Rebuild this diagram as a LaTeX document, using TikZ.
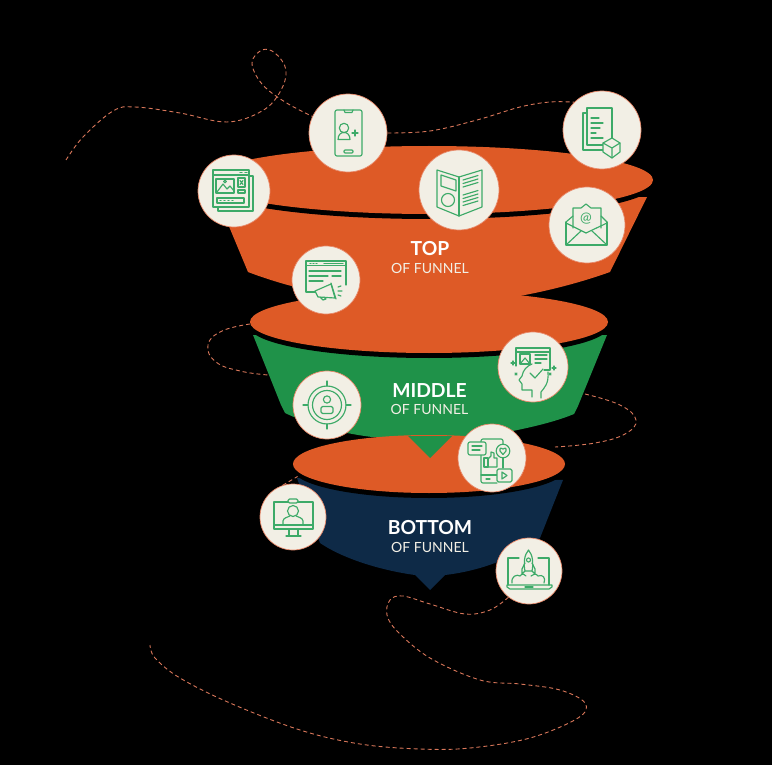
\documentclass[tikz,border=0pt]{standalone}
\usepackage{fontspec}
\setmainfont{Lato}
\definecolor{funOrange}{HTML}{DE5A26}
\definecolor{funGreen}{HTML}{1F9249}
\definecolor{funNavy}{HTML}{0E2A47}
\definecolor{ringFill}{HTML}{F2EFE5}
\definecolor{ringEdge}{HTML}{E8896A}
\definecolor{iconGreen}{HTML}{3DAA68}
\definecolor{dashCol}{HTML}{D9775A}
\pgfdeclarelayer{under}
\pgfsetlayers{under,main}
\tikzset{
 ring/.style={circle,fill=ringFill,draw=ringEdge,line width=.7pt,inner sep=0pt,minimum size=#1},
 dashline/.style={draw=dashCol,line width=.9pt,dash pattern=on 4pt off 3pt},
 ico/.style={draw=iconGreen,line width=1.15pt,line join=round,line cap=round},
 headtxt/.style={text=white,font=\fontsize{19.3}{20}\selectfont\bfseries},
 subtxt/.style={text=ringFill,font=\fontsize{14}{15}\selectfont},
 atsign/.style={text=iconGreen,inner sep=0pt,font=\fontsize{14}{15}\selectfont},
}
\begin{document}
\begin{tikzpicture}[x=1pt,y=-1pt]
\begin{pgfonlayer}{under}
\path[fill=black,use as bounding box] (0,0) rectangle (772,765);
\end{pgfonlayer}
% top of funnel
\fill[funOrange] (218,200) -- (248,272) .. controls (300,292) and (370,305) .. (429,305) .. controls (490,305) and (560,290) .. (610,272) -- (647,197) -- cycle;
\fill[black] (429,185) ellipse [x radius=224,y radius=34];
\fill[funOrange] (429,180) ellipse [x radius=224,y radius=34];
% middle of funnel
\fill[funGreen] (253,335) -- (281,405) -- (285,413) .. controls (310,425) and (340,433) .. (372,437) -- (480,437) .. controls (515,431) and (550,424) .. (574,414) -- (578,406) -- (607,335) -- cycle;
\fill[black] (429,327) ellipse [x radius=179,y radius=31];
\fill[funOrange] (429,322) ellipse [x radius=179,y radius=31];
% bottom of funnel
\fill[funNavy] (297,478) -- (320,543) .. controls (345,560) and (385,571) .. (415,575) -- (430,590) -- (445,575) .. controls (480,571) and (515,558) .. (540,538) -- (563,480) -- cycle;
\fill[black] (429,469) ellipse [x radius=136,y radius=29];
\fill[funOrange] (429,464) ellipse [x radius=136,y radius=29];
\fill[funGreen] (408,436) -- (430,458) -- (452,436) -- cycle;
% labels
\node[headtxt] (topA) at (430,249) {TOP};
\node[subtxt] (topB) at (430,268) {OF FUNNEL};
\node[headtxt] (midA) at (429.5,391) {MIDDLE};
\node[subtxt] (midB) at (429.5,409) {OF FUNNEL};
\node[headtxt] (botA) at (430,528) {BOTTOM};
\node[subtxt] (botB) at (430,547) {OF FUNNEL};
% circles
\node[ring=78pt] (phone) at (348,133) {};
\node[ring=78pt] (docs) at (602,130) {};
\node[ring=66pt] (rocket) at (529,571) {};
\node[ring=66pt] (video) at (293,517) {};
\node[ring=72pt] (web) at (234,191) {};
\node[ring=80pt] (mag) at (459,190) {};
\node[ring=76pt] (email) at (587,225) {};
\node[ring=68pt] (ad) at (326,280) {};
\node[ring=70pt] (head) at (533,367) {};
\node[ring=68pt] (target) at (327,405) {};
\node[ring=68pt] (social) at (492,458) {};
% dashed trails run beneath everything else
\coordinate (trailA) at (66,160);
\coordinate (trailB) at (150,645);
\coordinate (midL) at (250,324);
\coordinate (midLb) at (268,375);
\coordinate (midR) at (585,394);
\coordinate (midRb) at (555,447);
\begin{pgfonlayer}{under}
\draw[dashline] plot[smooth,tension=.62] coordinates {(trailA) (83,137) (113,111) (135,107) (180,113) (227,122) (262,111) (280,92) (286,70) (275,53) (262,50) (252,63) (262,84) (285,102) (phone.155)};
\draw[dashline] plot[smooth,tension=.6] coordinates {(phone.0) (430,131) (477,120) (520,107) (550,102) (docs.135)};
\draw[dashline] plot[smooth,tension=.75] coordinates {(midL) (222,331) (208,345) (216,362) (240,371) (midLb)};
\draw[dashline] plot[smooth,tension=.7] coordinates {(midR) (620,405) (636,420) (625,434) (595,443) (midRb)};
\draw[dashline] plot[smooth,tension=.6] coordinates {(rocket.232) (490,610) (465,614) (430,604) (403,596) (390,600) (387,615) (398,632) (430,658) (480,680) (520,684) (560,690) (585,703) (578,718) (530,738) (470,748) (420,749) (360,744) (300,730) (230,703) (180,678) (155,658) (trailB)};
\draw[dashline] (video.108) -- (300,475);
\end{pgfonlayer}
\begin{scope}[ico]
% phone
\draw[rounded corners=2pt] (335,110) rectangle (362,156);
\draw (344,110) -- (345,112.5) -- (352,112.5) -- (353,110);
\draw[rounded corners=1pt] (344,150) rectangle (353,153);
\draw (344,128) circle (4.7);
\draw (338,139.5) .. controls (338,130) and (350,130) .. (350,139.5) -- cycle;
\draw (352,133) -- (358,133) (355,130) -- (355,136);
% web
\draw (213,170) rectangle (249,207);
\draw (213,175) -- (249,175);
\draw (249,176) -- (253,176) -- (253,211) -- (218,211) -- (218,207);
\draw (240,172.5) -- (242,172.5) (245,172.5) -- (247,172.5);
\draw (216,179) rectangle (234,193);
\draw (217,192) -- (223,184) -- (227,189) -- (230,186) -- (234,191);
\draw (225,181.5) circle (1.4);
\draw (238,178) rectangle (245,187);
\draw (240,180.5) -- (243,184.5) (243,180.5) -- (240,184.5);
\draw (238,190) rectangle (245,193);
\draw (217,198) rectangle (244,203);
\draw (220,200.5) -- (221,200.5) (224,200.5) -- (225,200.5) (228,200.5) -- (229,200.5) (232,200.5) -- (233,200.5);
% ad
\draw (346,285) -- (346,261) -- (306,261) -- (306,292) -- (315,292);
\draw (306,265.5) -- (346,265.5);
\draw (310,263.3) -- (311,263.3) (313,263.3) -- (314,263.3) (316,263.3) -- (317,263.3) (324,263.3) -- (343,263.3);
\draw (309,271) -- (341,271) (309,276) -- (328,276) (332,276) -- (341,276) (309,281) -- (323,281);
\draw[fill=ringFill] (315,291) -- (331,284) -- (335,298) -- (318,297) -- cycle;
\draw (320,297) -- (323,300) -- (326,299) -- (324,297);
\draw (331,283) -- (336,299);
\draw (338,287) -- (341,286) (338,291) -- (342,291) (338,295) -- (341,296);
% magazine
\draw (437,170) -- (459,177) -- (482,170) -- (482,207) -- (459,216) -- (437,207) -- cycle;
\draw (459,177) -- (459,216);
\draw (441,175) -- (456,180) -- (456,191) -- (441,186) -- cycle;
\draw (448,200) circle (6.5);
\draw (463,180) -- (478,175.5) (463,183.5) -- (478,179) (463,187) -- (478,182.5);
\draw (463,195) -- (478,190.5) (463,198.5) -- (478,194) (463,202) -- (478,197.5) (463,205.5) -- (478,201);
% docs
\draw (612,145) -- (612,108) -- (587,108) -- (587,145) -- (603,145);
\draw (587,113) -- (583,113) -- (583,150) -- (603,150);
\draw (591,118) -- (599,118) (591,123) -- (603,123) (591,128) -- (600,128) (591,133) -- (596,133) (591,138) -- (603,138);
\draw[fill=ringFill] (612,138) -- (620,143) -- (620,152) -- (612,158) -- (603,152) -- (603,143) -- cycle;
\draw (603,143) -- (612,148) -- (620,143) (612,148) -- (612,158);
% email
\draw (566,222) -- (566,245) -- (607,245) -- (607,222);
\draw (566,222) -- (573,216) (607,222) -- (601,216);
\draw (566,245) -- (581,231) (607,245) -- (592,231);
\draw (566,223) -- (586,233) -- (607,223);
\draw (573,228) -- (573,208) -- (581,208) -- (586,204) -- (591,208) -- (601,208) -- (601,228);
\node[atsign] (emailAt) at (586,219) {@};
% head
\draw (516,366) -- (516,348) -- (550,348) -- (550,370) -- (544,370);
\draw (516,352) -- (550,352);
\draw (520,354) rectangle (530,364);
\draw (520,364) -- (525,358) -- (530,364);
\draw (535,355) -- (547,355) (535,359) -- (547,359) (535,363) -- (541,363);
\draw (548,372) .. controls (549,384) and (544,388) .. (541,392) -- (541,398);
\draw (532,397) -- (532,390) -- (522,390) -- (522,384) -- (519,380) -- (522,376) .. controls (523,370) and (527,366) .. (532,364);
\draw (530,373) -- (535,378) -- (543,369);
\draw (513,361) -- (513,365) (511,363) -- (515,363) (554,366) -- (554,370) (552,368) -- (556,368);
\draw (515,373) -- (517,375) (517,373) -- (515,375) (549,373) -- (551,375) (551,373) -- (549,375);
% target
\draw (327,405) circle (19);
\draw (327,405) circle (14.5);
\draw (327,381) -- (327,386) (327,424) -- (327,429) (303,405) -- (308,405) (346,405) -- (351,405);
\draw (327,399.5) circle (3.6);
\draw[rounded corners=1.5pt] (321,413.5) -- (321,406.5) -- (333,406.5) -- (333,413.5) -- cycle;
% social
\draw[rounded corners=2pt] (503,444) -- (503,439) -- (481,439) -- (481,483) -- (497,483);
\draw (503,458) -- (503,468);
\draw (486,479) -- (490,479) (481,475) -- (497,475);
\draw[rounded corners=2pt,fill=ringFill] (468,442) rectangle (486,455);
\draw (472,446) -- (482,446) (472,450) -- (480,450);
\draw[fill=ringFill] (503,451) circle (6.8);
\draw (503,454.5) -- (500,451) .. controls (499,448) and (502,447) .. (503,449) .. controls (504,447) and (507,448) .. (506,451) -- cycle;
\draw (484,458) rectangle (488,467);
\draw (488,459) -- (491,456) -- (491,452) -- (494,453) -- (494,458) -- (497,458) -- (497,467) -- (488,467);
\draw[rounded corners=1.5pt,fill=ringFill] (497,469) rectangle (512,482);
\draw (502,472) -- (507,475.5) -- (502,479) -- cycle;
% video
\draw (274,502) rectangle (313,529);
\draw (274,525) -- (313,525);
\draw[rounded corners=1.5pt,fill=ringFill] (288,499) rectangle (298,503);
\draw (289,529) -- (289,536) -- (298,536) -- (298,529) (286,536) -- (301,536);
\draw (293,511) circle (5.5);
\draw (283,525) -- (283,521) .. controls (283,518) and (288,517) .. (290,516) (303,525) -- (303,521) .. controls (303,518) and (298,517) .. (296,516);
% rocket
\draw (519,558) -- (508,558) -- (508,585) (549,585) -- (549,558) -- (538,558);
\draw (507,585) -- (552,585) -- (552,587) -- (549,589) -- (510,589) -- (507,587) -- cycle;
\draw (525,587) -- (533,587);
\draw (528.5,550) .. controls (524,555) and (523.5,564) .. (525,571) -- (532,571) .. controls (533.5,564) and (533,555) .. (528.5,550) -- cycle;
\draw (528.5,560) circle (2);
\draw (525,563) -- (522,569) -- (522,574) -- (525,571) (532,563) -- (535,569) -- (535,574) -- (532,571);
\draw (512,583) .. controls (511,576) and (517,574) .. (520,576) .. controls (522,573) and (525,574) .. (526,576) (531,576) .. controls (533,574) and (536,573) .. (538,576) .. controls (543,574) and (546,578) .. (544,583);
\end{scope}
\end{tikzpicture}
\end{document}
